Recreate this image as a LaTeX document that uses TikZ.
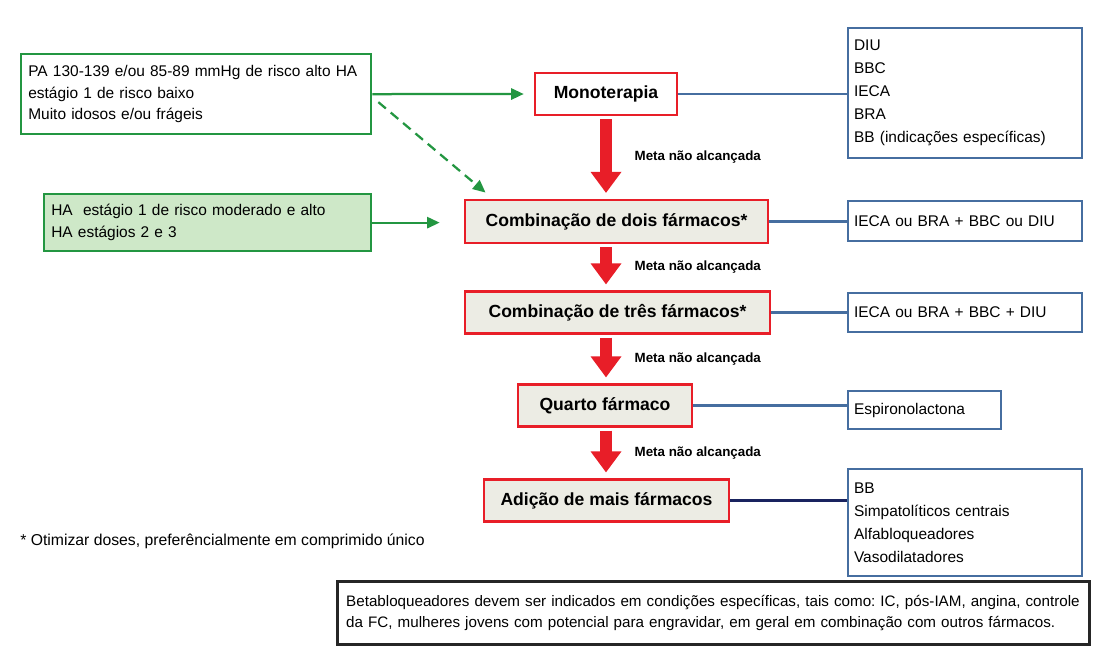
\documentclass[tikz,border=0pt]{standalone}
\usepackage{fontspec}
\setmainfont{Liberation Sans}
\usepackage{xcolor}
\usetikzlibrary{arrows.meta,positioning,calc}

\definecolor{pgreen}{RGB}{35,150,65}
\definecolor{pgreenfill}{RGB}{206,232,200}
\definecolor{pred}{RGB}{232,30,40}
\definecolor{pgray}{RGB}{236,236,228}
\definecolor{pblue}{RGB}{70,110,160}
\definecolor{pnavy}{RGB}{25,35,95}

\frenchspacing

\begin{document}
\begin{tikzpicture}[
        x=0.025cm, y=-0.025cm,
        inbox/.style={rectangle, draw=pgreen, line width=1.6pt, anchor=north west, align=left, inner xsep=0.18cm, font=\fontsize{11}{15.5}\selectfont},
        stepbox/.style={rectangle, draw=pred, line width=2pt, fill=pgray, minimum height=1.05cm, align=center, font=\bfseries\fontsize{12.5}{14}\selectfont},
        drugbox/.style={rectangle, draw=pblue, line width=1.5pt, anchor=north west, align=left, inner xsep=0.15cm, font=\fontsize{11}{16.3}\selectfont},
        notebox/.style={rectangle, draw=black!85, line width=2pt, anchor=north west, align=left, inner xsep=0.22cm, font=\fontsize{10.8}{15}\selectfont},
        meta/.style={font=\bfseries\fontsize{9.5}{11}\selectfont},
        redarrow/.style={-{Triangle[width=21pt,length=15pt]}, line width=8.5pt, draw=pred, shorten <=2pt, shorten >=4pt},
        garrow/.style={-{Triangle[width=8pt,length=9pt]}, draw=pgreen, line width=1.6pt},
        link/.style={draw=pblue, line width=1.5pt}
    ]

    % page area
    \useasboundingbox (0,0) rectangle (1102,666);
    \fill[white] (0,0) rectangle (1102,666);

    % === Entry criteria (left) ===
    \node[inbox, text width=8.39cm, minimum height=2cm] (risco) at (20,53) {PA 130-139 e/ou 85-89 mmHg de risco alto HA\\estágio 1 de risco baixo\\Muito idosos e/ou frágeis};
    \node[inbox, fill=pgreenfill, text width=7.815cm, minimum height=1.425cm] (estagio) at (43,193) {HA\ \ estágio 1 de risco moderado e alto\\HA estágios 2 e 3};

    % === Treatment steps (center) ===
    \node[stepbox, fill=white, minimum width=3.55cm] (mono) at (606,94) {Monoterapia};
    \node[stepbox, minimum width=7.575cm, minimum height=1.075cm] (dois) at (616.5,221.5) {Combinação de dois fármacos*};
    \node[stepbox, minimum width=7.625cm] (tres) at (617.5,312.5) {Combinação de três fármacos*};
    \node[stepbox, minimum width=4.35cm] (quarto) at (605,405.5) {Quarto fármaco};
    \node[stepbox, minimum width=6.125cm] (adicao) at (606.5,500.5) {Adição de mais fármacos};

    % === Drug options (right) ===
    \node[drugbox, text width=5.55cm, minimum height=3.25cm] (drug1) at (847,27) {DIU\\BBC\\IECA\\BRA\\BB (indicações específicas)};
    \node[drugbox, text width=5.55cm, minimum height=1cm] (drug2) at (847,200) {IECA ou BRA + BBC ou DIU};
    \node[drugbox, text width=5.55cm, minimum height=0.975cm] (drug3) at (847,292) {IECA ou BRA + BBC + DIU};
    \node[drugbox, text width=3.525cm, minimum height=0.95cm] (drug4) at (847,390) {Espironolactona};
    \node[drugbox, text width=5.55cm, minimum height=2.675cm] (drug5) at (847,468) {BB\\Simpatolíticos centrais\\Alfabloqueadores\\Vasodilatadores};

    % === Notes ===
    \node[anchor=west, inner sep=0pt, font=\fontsize{11.2}{12}\selectfont] (foot) at (20,541) {* Otimizar doses, preferêncialmente em comprimido único};
    \node[notebox, text width=18.36cm, minimum height=1.575cm] (bb) at (336,580) {Betabloqueadores devem ser indicados em condições específicas, tais como: IC, pós-IAM, angina, controle\\da FC, mulheres jovens com potencial para engravidar, em geral em combinação com outros fármacos.};

    % === Arrows: entry criteria ===
    \draw[garrow, shorten >=7pt] (risco.east) -- (mono.west);
    \draw[garrow, dash pattern=on 7pt off 4.5pt] ($(risco.east)+(6,8)$) -- ($(dois.north west)+(22,-6)$);
    \draw[garrow, shorten >=17pt] (estagio.east) -- (estagio.east -| dois.west);

    % === Arrows: goal not reached ===
    \draw[redarrow] (mono.south) -- node[meta, right=0.45cm] (meta1) {Meta não alcançada} (mono.south |- dois.north);
    \draw[redarrow] (mono.south |- dois.south) -- node[meta, right=0.45cm] (meta2) {Meta não alcançada} (mono.south |- tres.north);
    \draw[redarrow] (mono.south |- tres.south) -- node[meta, right=0.45cm] (meta3) {Meta não alcançada} (mono.south |- quarto.north);
    \draw[redarrow] (mono.south |- quarto.south) -- node[meta, right=0.45cm] (meta4) {Meta não alcançada} (mono.south |- adicao.north);

    % === Links to drug options ===
    \draw[link] (mono.east) -- (drug1.west |- mono.east);
    \draw[link] (dois.east) -- (drug2.west |- dois.east);
    \draw[link] (tres.east) -- (drug3.west |- tres.east);
    \draw[link] (quarto.east) -- (drug4.west |- quarto.east);
    \draw[link, draw=pnavy] (adicao.east) -- (drug5.west |- adicao.east);

\end{tikzpicture}
\end{document}
